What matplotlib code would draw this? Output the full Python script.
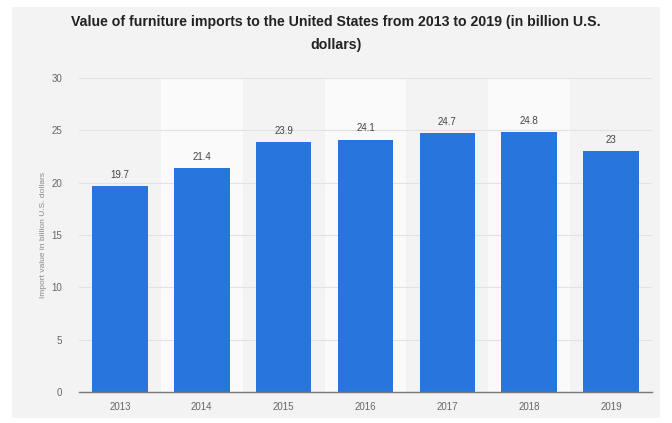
import numpy as np
import matplotlib.pyplot as plt
from matplotlib.patches import Rectangle

years = ['2013', '2014', '2015', '2016', '2017', '2018', '2019']
values = [19.7, 21.4, 23.9, 24.1, 24.7, 24.8, 23]
yticks = [0, 5, 10, 15, 20, 25, 30]

plt.rcParams['font.family'] = ['Liberation Sans', 'DejaVu Sans']

fig = plt.figure(figsize=(6.72, 4.23), dpi=100, facecolor='white')
# grey card behind the chart
fig.patches.append(Rectangle((12/672, 5/423), 648/672, 411/423, transform=fig.transFigure,
                             facecolor='#f3f3f3', edgecolor='none', zorder=-5))

ax = fig.add_axes([79/672, 1-392/423, 573/672, 314/423])
ax.set_facecolor('#f3f3f3')
x = np.arange(len(years))

# lighter bands behind every other column
for i in range(1, len(years), 2):
    ax.axvspan(i-0.5, i+0.5, color='#fafafa', zorder=0, lw=0)

ax.bar(x, values, width=0.68, color='#2876dd', zorder=3)
for xi, v in zip(x, values):
    ax.text(xi, v+0.6, f'{v:g}', ha='center', va='bottom', fontsize=7, color='#444444', zorder=4)

ax.set_xlim(-0.5, len(years)-0.5)
ax.set_ylim(0, 30)
ax.set_xticks(x)
ax.set_xticklabels(years)
ax.set_yticks(yticks)
ax.yaxis.grid(True, color='#e2e2e2', lw=0.8, zorder=1)
ax.tick_params(axis='both', length=0, labelsize=7, labelcolor='#666666')
ax.tick_params(axis='x', pad=7)
ax.tick_params(axis='y', pad=12)
for s in ['top', 'right', 'left']:
    ax.spines[s].set_visible(False)
ax.spines['bottom'].set_color('#777777')
ax.spines['bottom'].set_linewidth(1)
ax.spines['bottom'].set_zorder(5)

ax.set_ylabel('Import value in billion U.S. dollars', fontsize=6, color='#888888')
ax.yaxis.set_label_coords(-0.056, 0.5)
fig.text(0.5, 1-33.5/423, 'Value of furniture imports to the United States from 2013 to 2019 (in billion U.S.\ndollars)',
         ha='center', va='center', fontsize=10.2, fontweight='bold', color='#222222', linespacing=1.9)

fig.savefig('out.png', dpi=100)
